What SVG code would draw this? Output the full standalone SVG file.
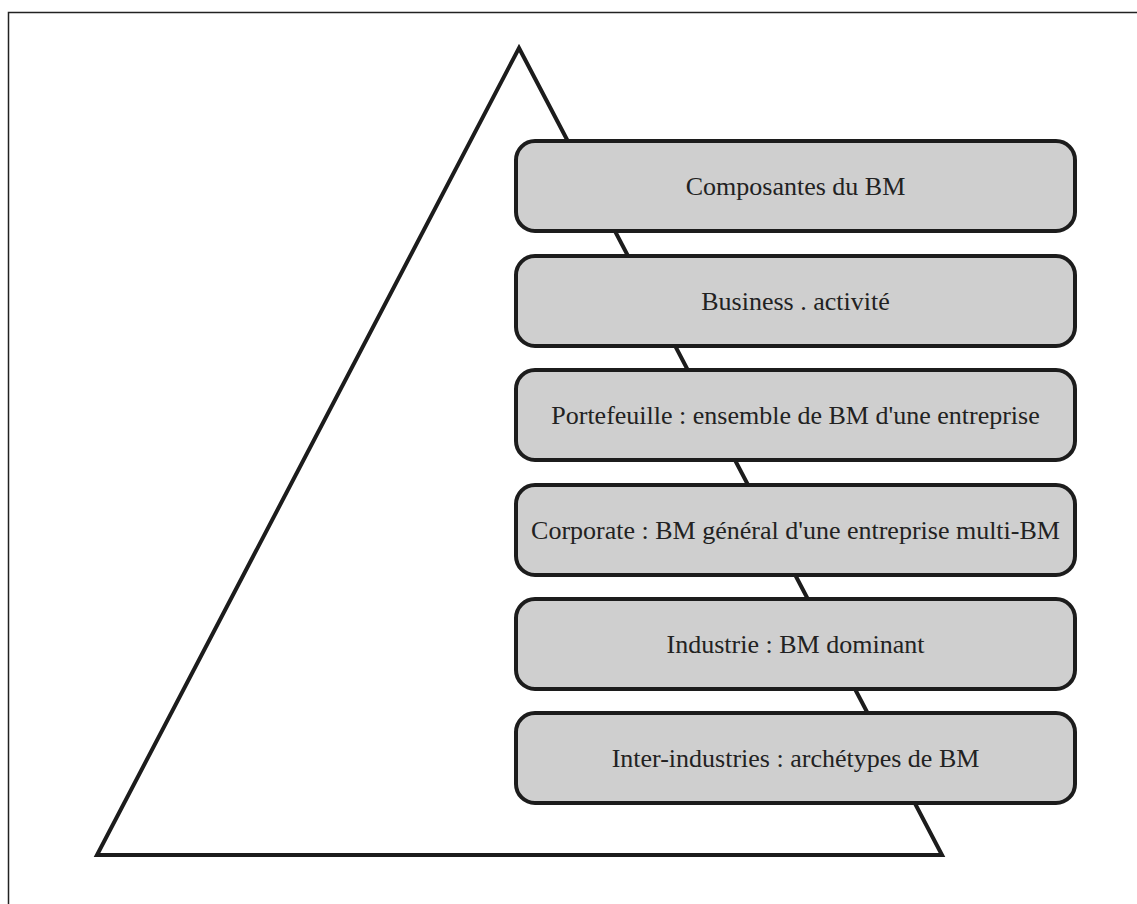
<svg xmlns="http://www.w3.org/2000/svg" width="1137" height="904" viewBox="0 0 1137 904">
<style>
.box{fill:#cfcfcf;stroke:#1c1c1c;stroke-width:4}
.lbl{font-family:"Liberation Serif","Times New Roman",serif;font-size:26px;fill:#222;text-anchor:middle}
</style>
<rect width="1137" height="904" fill="#fff"/>
<path d="M8.5,904 V12.5 H1137" fill="none" stroke="#222" stroke-width="1.5"/>
<g id="pyramid">
<polygon points="519,48 942,855 97,855" fill="#fff" stroke="#1c1c1c" stroke-width="4" stroke-linejoin="miter"/>
</g>
<g id="node1"><rect class="box" x="516" y="141" width="559" height="90" rx="19"/><text class="lbl" x="795.5" y="195">Composantes du BM</text></g>
<g id="node2"><rect class="box" x="516" y="256" width="559" height="90" rx="19"/><text class="lbl" x="795.5" y="310">Business . activité</text></g>
<g id="node3"><rect class="box" x="516" y="370" width="559" height="90" rx="19"/><text class="lbl" x="795.5" y="424">Portefeuille : ensemble de BM d'une entreprise</text></g>
<g id="node4"><rect class="box" x="516" y="485" width="559" height="90" rx="19"/><text class="lbl" x="795.5" y="539">Corporate : BM général d'une entreprise multi-BM</text></g>
<g id="node5"><rect class="box" x="516" y="599" width="559" height="90" rx="19"/><text class="lbl" x="795.5" y="653">Industrie : BM dominant</text></g>
<g id="node6"><rect class="box" x="516" y="713" width="559" height="90" rx="19"/><text class="lbl" x="795.5" y="767">Inter-industries : archétypes de BM</text></g>
<g id="connectors"></g>
</svg>
